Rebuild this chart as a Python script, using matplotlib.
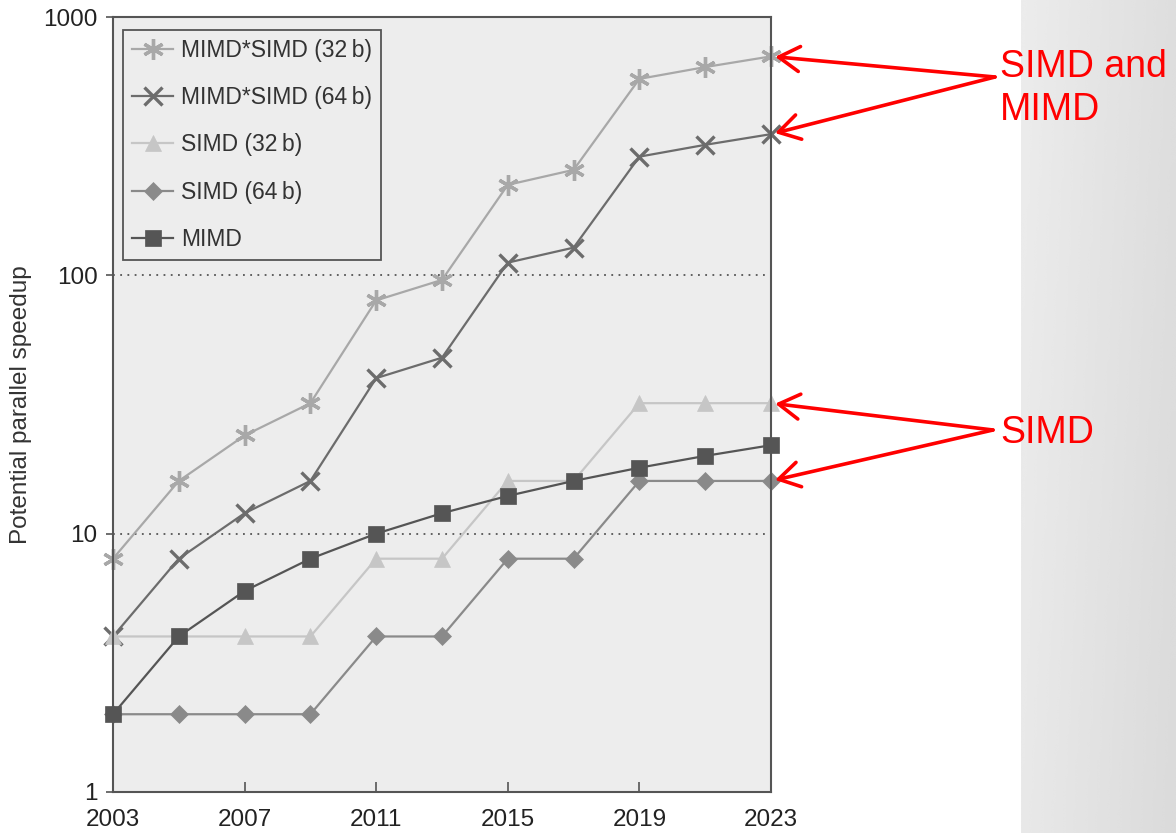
import matplotlib
matplotlib.use("Agg")
import matplotlib.pyplot as plt
import numpy as np
from matplotlib.ticker import FixedLocator, NullLocator

plt.rcParams["font.family"] = ["Liberation Sans", "DejaVu Sans"]

years = [2003, 2005, 2007, 2009, 2011, 2013, 2015, 2017, 2019, 2021, 2023]
mimd = [2, 4, 6, 8, 10, 12, 14, 16, 18, 20, 22]
simd_32 = [4, 4, 4, 4, 8, 8, 16, 16, 32, 32, 32]
simd_64 = [2, 2, 2, 2, 4, 4, 8, 8, 16, 16, 16]
mimd_simd_32 = [8, 16, 24, 32, 80, 96, 224, 256, 576, 640, 704]
mimd_simd_64 = [4, 8, 12, 16, 40, 48, 112, 128, 288, 320, 352]

x_ticks = [2003, 2007, 2011, 2015, 2019, 2023]
y_ticks = [1, 10, 100, 1000]
y_tick_labels = ["1", "10", "100", "1000"]

W, H = 1176, 833
fig = plt.figure(figsize=(W / 100, H / 100), dpi=100)
fig.patch.set_facecolor("white")

# grey slide strip on the right
strip = fig.add_axes([1021 / W, 0, 1 - 1021 / W, 1], zorder=-1)
gx = np.linspace(0.925, 0.87, 64)
gy = np.linspace(1.0, 0.985, 64)[:, None]
strip.imshow(gx[None, :] * gy, cmap="gray", vmin=0, vmax=1, aspect="auto",
             interpolation="bicubic")
strip.set_axis_off()

ax = fig.add_axes([113 / W, 41 / H, 658 / W, 775 / H])
ax.set_facecolor("#ededed")

series = [
    ("MIMD*SIMD (32\u2009b)", mimd_simd_32, "#a8a8a8", (6, 2, 0), 15, 1.6),
    ("MIMD*SIMD (64\u2009b)", mimd_simd_64, "#6c6c6c", "x", 13, 1.6),
    ("SIMD (32\u2009b)", simd_32, "#c6c6c6", "^", 11, 1.6),
    ("SIMD (64\u2009b)", simd_64, "#8a8a8a", "D", 9, 1.6),
    ("MIMD", mimd, "#555555", "s", 12, 1.6),
]
for label, vals, color, marker, ms, lw in series:
    ax.plot(years, vals, color=color, marker=marker, markersize=ms,
            markeredgewidth=2.4 if marker in ("x", (6, 2, 0)) else 0.5,
            markeredgecolor=color, linewidth=lw, label=label, clip_on=False)

ax.set_yscale("log")
ax.set_xlim(2003, 2023)
ax.set_ylim(1, 1000)
ax.xaxis.set_major_locator(FixedLocator(x_ticks))
ax.yaxis.set_major_locator(FixedLocator(y_ticks))
ax.yaxis.set_minor_locator(NullLocator())
ax.set_yticklabels(y_tick_labels)
ax.tick_params(axis="x", direction="in", length=7, width=1.2, color="#555555",
               labelsize=17.5, pad=12, labelcolor="#222222")
ax.tick_params(axis="y", direction="out", length=5, width=1.2, color="#555555",
               labelsize=17.5, pad=6, labelcolor="#222222")
ax.yaxis.grid(True, linestyle=(0, (1, 3)), color="#555555", linewidth=1.3)
for sp in ax.spines.values():
    sp.set_color("#555555")
    sp.set_linewidth(1.5)

ax.set_ylabel("Potential parallel speedup", fontsize=17.5, color="#333333",
              labelpad=8)

leg = ax.legend(loc="upper left", bbox_to_anchor=(0.015, 0.983),
                borderaxespad=0, fontsize=16.5, frameon=True, fancybox=False,
                edgecolor="#555555", facecolor="#ededed", framealpha=1,
                labelspacing=1.05, handlelength=1.8, handletextpad=0.35,
                borderpad=0.4)
leg.get_frame().set_linewidth(1.3)
for t in leg.get_texts():
    t.set_color("#333333")

red = "#ff0000"
arrow_kw = dict(arrowstyle="->,head_length=0.75,head_width=0.45", color=red,
                lw=2.6, shrinkA=0, shrinkB=3, mutation_scale=20)

# pointers to the combined SIMD/MIMD curves
for vals in (mimd_simd_32, mimd_simd_64):
    ax.annotate("", xy=(years[-1], vals[-1]), xycoords="data",
                xytext=(995, H - 77), textcoords="figure pixels",
                arrowprops=arrow_kw, annotation_clip=False)
fig.text(1000 / W, 1 - 49 / H, "SIMD and\nMIMD", color=red, fontsize=27,
         ha="left", va="top", linespacing=1.25)

# pointers to the SIMD-only curves
for vals in (simd_32, simd_64):
    ax.annotate("", xy=(years[-1], vals[-1]), xycoords="data",
                xytext=(993, H - 430), textcoords="figure pixels",
                arrowprops=arrow_kw, annotation_clip=False)
fig.text(1000 / W, 1 - 443 / H, "SIMD", color=red, fontsize=27,
         ha="left", va="baseline")

fig.savefig("out.png", dpi=100)
